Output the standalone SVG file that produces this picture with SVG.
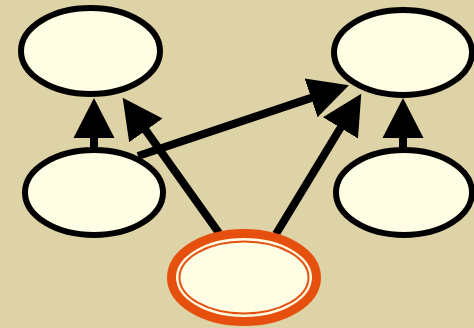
<svg xmlns="http://www.w3.org/2000/svg" width="474" height="328" viewBox="0 0 474 328">
<defs>
<marker id="ah" markerUnits="userSpaceOnUse" viewBox="0 -22 42 44" markerWidth="42" markerHeight="44" refX="1" refY="0" orient="auto">
<path d="M0,-20.5 L40,0 L0,20.5 Z" fill="#000"/>
</marker>
<style>
.n{fill:#fffde3;stroke:#000;stroke-width:6}
.e{stroke:#000;stroke-width:8;fill:none;marker-end:url(#ah)}
</style>
</defs>
<rect width="474" height="328" fill="#ded3a6"/>
<g id="connectors">
<line class="e" x1="94" y1="150" x2="94" y2="137"/>
<line class="e" x1="219" y1="233" x2="145.3" y2="129.6"/>
<line class="e" x1="138" y1="156" x2="312" y2="97.6"/>
<line class="e" x1="276" y1="234" x2="341" y2="127"/>
<line class="e" x1="403" y1="150" x2="403" y2="137"/>
</g>
<g id="top-left"><ellipse class="n" cx="90.5" cy="51" rx="69.5" ry="43"/></g>
<g id="top-right"><ellipse class="n" cx="403" cy="52.5" rx="69" ry="42.5"/></g>
<g id="mid-left"><ellipse class="n" cx="94" cy="192.5" rx="69" ry="42.5"/></g>
<g id="mid-right"><ellipse class="n" cx="404" cy="192.5" rx="68" ry="42.5"/></g>
<g id="bottom">
<ellipse cx="244" cy="277.5" rx="72.5" ry="44" fill="#fffde3" stroke="#e5500f" stroke-width="9"/>
<ellipse cx="244" cy="277.5" rx="64.5" ry="36" fill="none" stroke="#e5500f" stroke-width="2"/>
</g>
</svg>
